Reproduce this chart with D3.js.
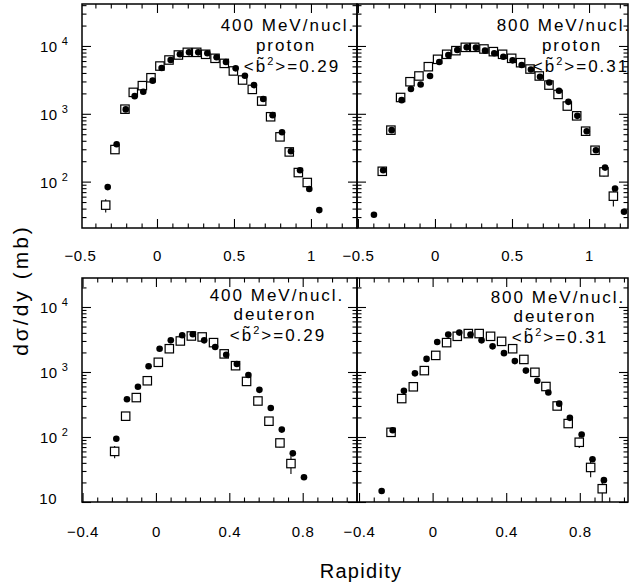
<!DOCTYPE html>
<html><head><meta charset="utf-8">
<script src="https://cdn.jsdelivr.net/npm/d3@7"></script>
<style>
body{margin:0;background:#fff}
svg{display:block}
text{font-family:"Liberation Sans",Arial,Helvetica,sans-serif;fill:#000}
</style>
</head><body>
<svg id="chart" width="634" height="586"></svg>
<script>
// ---------------- DATA ----------------
// 400 MeV/nucl. proton
const p400CircX = [-0.320,-0.262,-0.203,-0.145,-0.089,-0.028,0.030,0.089,0.149,0.208,0.268,0.327,0.387,0.448,0.511,0.571,0.630,0.690,0.751,0.812,0.870,0.929,0.989,1.054];
const p400CircY = [83,356,1160,1820,2110,3080,4730,6210,7540,8060,8060,7800,6810,5800,4680,3640,2650,1650,955,535,280,147,78,38];
const p400SqX = [-0.333,-0.273,-0.208,-0.154,-0.095,-0.039,0.019,0.078,0.139,0.197,0.258,0.316,0.377,0.437,0.496,0.556,0.619,0.680,0.738,0.799,0.859,0.918,0.976];
const p400SqY = [45,297,1170,2070,2600,3400,5060,6210,7360,8060,8060,7540,6580,5540,4280,3150,2290,1540,904,457,274,136,97];
const p400SqErr = [10,25,0,0,0,0,0,0,0,0,0,0,0,0,0,0,0,0,0,0,0,0,12];
// 800 MeV/nucl. proton
const p800CircX = [-0.396,-0.336,-0.281,-0.216,-0.156,-0.093,-0.032,0.028,0.087,0.145,0.206,0.266,0.325,0.385,0.444,0.504,0.563,0.623,0.682,0.742,0.805,0.866,0.924,0.985,1.045,1.104,1.169,1.227];
const p800CircY = [32.5,147,574,1590,2320,2710,3610,5800,7360,8730,9550,9450,8530,7800,6950,6140,5230,4510,3520,2900,2190,1500,933,554,290,161,79,36];
const p800SqX = [-0.342,-0.286,-0.223,-0.162,-0.104,-0.043,0.017,0.076,0.136,0.197,0.258,0.318,0.379,0.439,0.498,0.556,0.617,0.677,0.740,0.799,0.859,0.920,0.978,1.039,1.097,1.158];
const p800SqY = [142,574,1740,2970,3610,4950,6360,7540,8530,9550,9550,9030,8250,7540,6580,5670,4570,3610,2650,1930,1300,933,554,290,139,61];
const p800SqErr = [15,0,0,0,0,0,0,0,0,0,0,0,0,0,0,0,0,0,0,0,0,0,0,0,20,18];
// 400 MeV/nucl. deuteron
const d400CircX = [-0.216,-0.158,-0.098,-0.040,0.020,0.081,0.143,0.201,0.263,0.323,0.383,0.441,0.504,0.564,0.626,0.686,0.746,0.807];
const d400CircY = [94,380,592,1225,2280,3070,3670,3800,3070,2420,1840,1330,898,531,279,130,56,24];
const d400SqX = [-0.225,-0.165,-0.107,-0.047,0.013,0.073,0.133,0.193,0.252,0.314,0.372,0.434,0.494,0.556,0.616,0.676,0.736];
const d400SqY = [60,209,404,733,1410,2280,3000,3580,3460,2830,1900,1250,716,358,175,81,39];
const d400SqErr = [13,0,0,0,0,0,0,0,0,0,0,0,0,0,0,12,12];
// 800 MeV/nucl. deuteron
const d800CircX = [-0.277,-0.217,-0.156,-0.096,-0.033,0.025,0.085,0.145,0.206,0.266,0.326,0.388,0.447,0.507,0.569,0.629,0.688,0.746,0.810,0.869,0.931];
const d800CircY = [14.8,127,513,953,1590,2890,3760,4040,3760,3070,2480,1950,1470,1050,733,483,326,197,109,45.5,21.7];
const d800SqX = [-0.226,-0.168,-0.105,-0.045,0.017,0.076,0.134,0.194,0.253,0.315,0.375,0.435,0.496,0.556,0.616,0.677,0.737,0.797,0.859,0.922];
const d800SqY = [118,390,592,1050,1800,2830,3540,3900,3900,3540,2960,2280,1560,989,598,300,161,83,34,16];
const d800SqErr = [15,0,0,0,0,0,0,0,0,0,0,0,0,0,0,0,0,15,10,6];

// Tick labels
const topTickValues = [-0.5, 0, 0.5, 1];
const topTickLabels = ["\u22120.5", "0", "0.5", "1"];
const bottomTickValues = [-0.4, 0, 0.4, 0.8];
const bottomTickLabels = ["\u22120.4", "0", "0.4", "0.8"];
const topYTicks = [100, 1000, 10000];
const bottomYTicks = [10, 100, 1000, 10000];

// Panel texts
const energies = ["400 MeV/nucl.", "800 MeV/nucl."];
const particles = ["proton", "deuteron"];
const b2Values = ["0.29", "0.31"];
const yTitle = "d\u03c3/dy (mb)";
const xTitle = "Rapidity";

// ---------------- LAYOUT ----------------
const svg = d3.select("#chart");
const rows = [
  {y0: 4, y1: 228, logMin: 1.316, logMax: 4.619, majorStep: 0.5, minorStep: 0.1,
   tickVals: topTickValues, tickLabs: topTickLabels, yTicks: topYTicks, labelPad: 22},
  {y0: 278, y1: 502, logMin: 1.0, logMax: 4.446, majorStep: 0.4, minorStep: 0.08,
   tickVals: bottomTickValues, tickLabs: bottomTickLabels, yTicks: bottomYTicks, labelPad: 24}
];
const panels = [
  {row: 0, col: 0, x0: 82, x1: 357, xd: [-0.487, 1.299],
   cx: p400CircX, cy: p400CircY, sx: p400SqX, sy: p400SqY, se: p400SqErr,
   e: 0, p: 0, b: 0, tx: 288, ty: [31, 51, 72], pdx: -2, bdx: 4},
  {row: 0, col: 1, x0: 357, x1: 628, xd: [-0.506, 1.253],
   cx: p800CircX, cy: p800CircY, sx: p800SqX, sy: p800SqY, se: p800SqErr,
   e: 1, p: 0, b: 1, tx: 564, ty: [31, 51, 72], pdx: 8, bdx: 17},
  {row: 1, col: 0, x0: 82, x1: 357, xd: [-0.403, 1.096],
   cx: d400CircX, cy: d400CircY, sx: d400SqX, sy: d400SqY, se: d400SqErr,
   e: 0, p: 1, b: 0, tx: 277, ty: [301, 320, 340.5], pdx: -2, bdx: 1},
  {row: 1, col: 1, x0: 357, x1: 628, xd: [-0.411, 1.062],
   cx: d800CircX, cy: d800CircY, sx: d800SqX, sy: d800SqY, se: d800SqErr,
   e: 1, p: 1, b: 1, tx: 558, ty: [303, 322, 343], pdx: -3, bdx: 2}
];

const MAJ = 9, MIN = 4.5;
const fontMain = 17;

function rangeStep(a, b, s) {
  const out = [];
  const n0 = Math.ceil(a / s - 1e-6), n1 = Math.floor(b / s + 1e-6);
  for (let n = n0; n <= n1; n++) out.push(+(n * s).toFixed(4));
  return out;
}
function logMinor(lo, hi) {
  const out = [];
  for (let d = Math.floor(lo); d <= Math.ceil(hi); d++) {
    for (let m = 1; m <= 9; m++) {
      const v = m * Math.pow(10, d);
      const lv = Math.log10(v);
      if (lv >= lo - 1e-9 && lv <= hi + 1e-9) out.push(v);
    }
  }
  return out;
}

panels.forEach(P => {
  const R = rows[P.row];
  const x = d3.scaleLinear().domain(P.xd).range([P.x0, P.x1]);
  const y = d3.scaleLog().domain([Math.pow(10, R.logMin), Math.pow(10, R.logMax)]).range([R.y1, R.y0]);
  const g = svg.append("g");

  // tick sets
  const xAll = rangeStep(P.xd[0], P.xd[1], R.minorStep);
  const isMajX = v => Math.abs(v / R.majorStep - Math.round(v / R.majorStep)) < 1e-6;
  const xMaj = xAll.filter(isMajX), xMin = xAll.filter(v => !isMajX(v));
  const yAll = logMinor(R.logMin, R.logMax);
  const isMajY = v => Math.abs(Math.log10(v) - Math.round(Math.log10(v))) < 1e-6;
  const yMaj = yAll.filter(isMajY), yMin = yAll.filter(v => !isMajY(v));

  const axes = [
    [d3.axisBottom(x), `translate(0,${R.y1})`, xMaj, xMin],
    [d3.axisTop(x), `translate(0,${R.y0})`, xMaj, xMin],
    [d3.axisLeft(y), `translate(${P.x0},0)`, yMaj, yMin],
    [d3.axisRight(y), `translate(${P.x1},0)`, yMaj, yMin]
  ];
  axes.forEach(([ax, tr, maj, mn]) => {
    const a1 = g.append("g").attr("transform", tr)
      .call(ax.tickValues(maj).tickSize(-MAJ).tickFormat(""));
    a1.select(".domain").remove();
    const a2 = g.append("g").attr("transform", tr)
      .call(ax.tickValues(mn).tickSize(-MIN).tickFormat(""));
    a2.select(".domain").remove();
  });
  g.selectAll(".tick line").attr("stroke", "#000").attr("stroke-width", 1.1);

  // frame
  g.append("rect").attr("x", P.x0).attr("y", R.y0)
    .attr("width", P.x1 - P.x0).attr("height", R.y1 - R.y0)
    .attr("fill", "none").attr("stroke", "#000").attr("stroke-width", 1.5);

  // x tick labels
  const lab = g.append("g").attr("transform", `translate(0,${R.y1})`)
    .call(d3.axisBottom(x).tickValues(R.tickVals).tickSize(0).tickPadding(R.labelPad)
      .tickFormat((d, i) => R.tickLabs[i]));
  lab.select(".domain").remove();
  lab.selectAll("text").attr("font-size", 15).attr("letter-spacing", 0.6)
    .attr("font-family", "Liberation Sans, Arial, sans-serif");

  // y tick labels on left panels only
  if (P.col === 0) {
    R.yTicks.forEach(v => {
      const e = Math.round(Math.log10(v));
      const yy = y(v);
      const t = g.append("text").attr("x", 57).attr("text-anchor", "end")
        .attr("font-size", 15).attr("letter-spacing", 0.5);
      if (e === 1) {
        t.attr("y", yy + 2).text("10");
      } else {
        t.attr("x", 40).attr("y", yy + 6).attr("text-anchor", "start");
        t.append("tspan").text("10");
        t.append("tspan").attr("dx", 4).attr("dy", -7).attr("font-size", 11).text(String(e));
      }
    });
  }

  // squares with error bars (drawn first)
  const sq = P.sx.map((xv, i) => ({x: xv, y: P.sy[i], e: P.se[i]}));
  g.selectAll(".err").data(sq.filter(d => d.e > 0)).join("line")
    .attr("x1", d => x(d.x)).attr("x2", d => x(d.x))
    .attr("y1", d => y(d.y + d.e)).attr("y2", d => y(Math.max(d.y - d.e, 1)))
    .attr("stroke", "#000").attr("stroke-width", 1.1);
  const S = 8.4;
  g.selectAll(".sq").data(sq).join("rect")
    .attr("x", d => x(d.x) - S / 2).attr("y", d => y(d.y) - S / 2)
    .attr("width", S).attr("height", S)
    .attr("fill", "#fff").attr("stroke", "#000").attr("stroke-width", 1.2);
  // circles
  const ci = P.cx.map((xv, i) => ({x: xv, y: P.cy[i]}));
  g.selectAll(".ci").data(ci).join("circle")
    .attr("cx", d => x(d.x)).attr("cy", d => y(d.y)).attr("r", 3.3).attr("fill", "#000");

  // panel texts
  const ls = 2;
  g.append("text").attr("x", P.tx).attr("y", P.ty[0]).attr("text-anchor", "middle")
    .attr("font-size", fontMain).attr("letter-spacing", ls)
    .text(energies[P.e]);
  g.append("text").attr("x", P.tx + P.pdx).attr("y", P.ty[1]).attr("text-anchor", "middle")
    .attr("font-size", fontMain).attr("letter-spacing", ls).text(particles[P.p]);
  const bt = g.append("text").attr("x", P.tx + P.bdx).attr("y", P.ty[2]).attr("text-anchor", "middle")
    .attr("font-size", fontMain).attr("letter-spacing", ls);
  bt.append("tspan").text("<b\u0303");
  bt.append("tspan").attr("dy", -7).attr("font-size", 11).text("2");
  bt.append("tspan").attr("dy", 7).text(">=" + b2Values[P.b]);
});

// axis titles
svg.append("text").attr("transform", "translate(28,290) rotate(-90)")
  .attr("text-anchor", "middle").attr("font-size", 21).attr("letter-spacing", 3)
  .text(yTitle);
svg.append("text").attr("x", 361).attr("y", 578).attr("text-anchor", "middle")
  .attr("font-size", 20).attr("letter-spacing", 1.3).text(xTitle);
</script>
</body></html>
